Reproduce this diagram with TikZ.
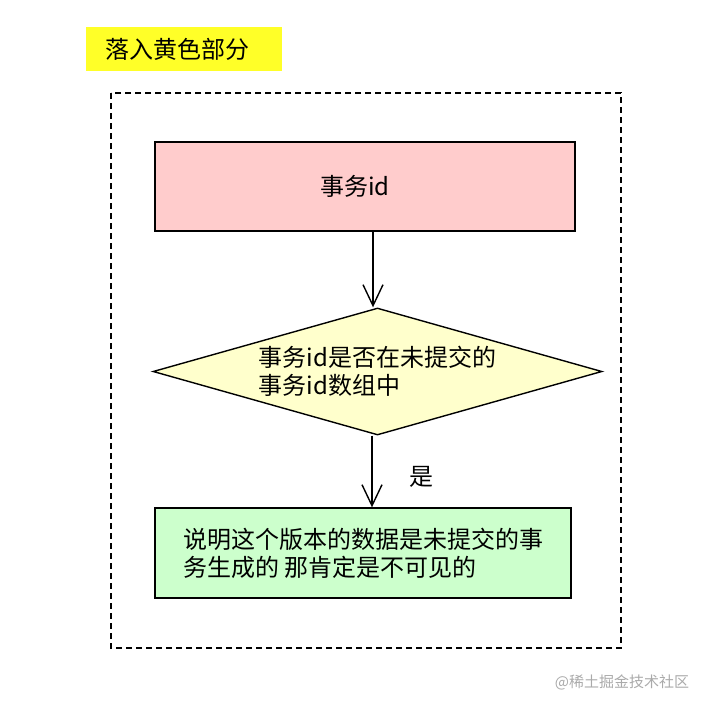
\documentclass[tikz,border=0pt]{standalone}
\usepackage{fontspec}
\setmainfont{Noto Sans CJK SC}
\usetikzlibrary{shapes.geometric,arrows.meta}
\definecolor{tagyellow}{RGB}{255,255,40}
\definecolor{boxpink}{RGB}{255,204,204}
\definecolor{boxcream}{RGB}{255,255,204}
\definecolor{boxgreen}{RGB}{204,255,204}
\definecolor{marktext}{RGB}{170,170,170}
\begin{document}
\begin{tikzpicture}[x=1pt, y=-1pt,
			font=\fontsize{24}{28}\selectfont,
			box/.style={draw, line width=1.4pt, rectangle, inner sep=0pt},
			chkbox/.style={draw, line width=1.4pt, diamond, aspect=3.5, inner sep=0pt, fill=boxcream, align=left},
			arr/.style={line width=1.4pt, -{Straight Barb[length=21pt, width=20pt, line width=1.4pt]}}]
			\useasboundingbox (0,0) rectangle (708,710);
			% tag and frame
			\node[fill=tagyellow, minimum height=44pt, inner xsep=19pt, text width=158pt, align=left, anchor=west] (tag) at (86,49) {落入黄色部分};
			\draw[line width=1.3pt, dash pattern=on 6pt off 4pt] (111,93) rectangle (621,648);
			% flow
			\node[box, fill=boxpink, minimum width=420pt, minimum height=89pt] (id) at (365,186.5) {事务id\kern20pt};
			\node[chkbox, minimum width=449pt, minimum height=127pt] (chk) at (377.5,371.5) {事务id是否在未提交的\\事务id数组中};
			\node[box, fill=boxgreen, minimum width=416pt, minimum height=90pt, align=left] (res) at (363,553) {说明这个版本的数据是未提交的事\\务生成的 那肯定是不可见的};
			\coordinate (top) at ([xshift=-4.5pt]chk.north);
			\coordinate (bot) at ([xshift=-5.5pt]chk.south);
			\draw (id.south -| top) edge[arr] (top);
			\draw (bot) edge[arr] node[pos=0.57, right=33pt] {是} (bot |- res.north);
			\node[text=marktext, font=\fontsize{15}{18}\selectfont] (mark) at (622,682) {@稀土掘金技术社区};
			\end{tikzpicture}
\end{document}
